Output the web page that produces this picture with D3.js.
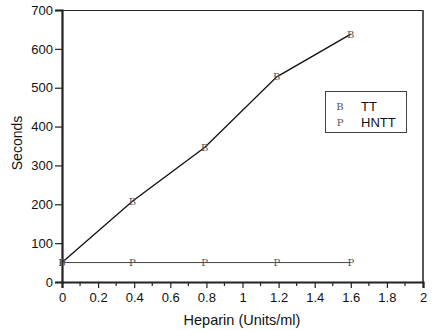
<!DOCTYPE html>
<html>
<head>
<meta charset="utf-8">
<script src="https://cdn.jsdelivr.net/npm/d3@7"></script>
<style>
  body { margin: 0; background: #fff; }
  svg { display: block; font-family: "Liberation Sans", Arial, sans-serif; }
</style>
</head>
<body>
<div id="chart"></div>
<script>
// data
const ttX = [0, 0.39, 0.79, 1.19, 1.6];
const ttY = [50, 208, 346, 528, 638];
const hnttX = [0, 0.39, 0.79, 1.19, 1.6];
const hnttY = [50, 50, 50, 50, 50];
const xTicks = [0, 0.2, 0.4, 0.6, 0.8, 1, 1.2, 1.4, 1.6, 1.8, 2];
const yTicks = [0, 100, 200, 300, 400, 500, 600, 700];
const legendLabels = ["TT", "HNTT"];
const legendMarks = ["B", "P"];

const W = 435, H = 331;
const margin = { top: 10, right: 12, bottom: 49, left: 62 };
const width = 423 - margin.left;
const height = 282 - margin.top;

const svg = d3.select("#chart").append("svg")
  .attr("width", W).attr("height", H);

const g = svg.append("g")
  .attr("transform", `translate(${margin.left},${margin.top})`);

const x = d3.scaleLinear().domain([0, 2]).range([0, width]);
const y = d3.scaleLinear().domain([0, 700]).range([height, 0]);

// top and right frame
g.append("line").attr("x1", 0).attr("x2", width).attr("y1", 0.5).attr("y2", 0.5)
  .attr("stroke", "#222").attr("stroke-width", 1.2);
g.append("line").attr("x1", width).attr("x2", width).attr("y1", 0).attr("y2", height)
  .attr("stroke", "#555").attr("stroke-width", 2);

// minor x ticks
const minor = d3.range(0.1, 2, 0.2);
g.selectAll(".minor").data(minor).join("line")
  .attr("x1", d => x(d)).attr("x2", d => x(d))
  .attr("y1", height).attr("y2", height + 4)
  .attr("stroke", "#222").attr("stroke-width", 1.2);

const xAxis = g.append("g")
  .attr("transform", `translate(0,${height})`)
  .call(d3.axisBottom(x).tickValues(xTicks).tickSize(6).tickPadding(5)
    .tickFormat(d => d3.format("")(d)));
xAxis.select(".domain").attr("stroke", "#222").attr("stroke-width", 2.2);
xAxis.selectAll(".tick line").attr("stroke", "#222").attr("stroke-width", 1.2);
xAxis.selectAll("text").attr("font-size", 13).attr("fill", "#111");

const yAxis = g.append("g")
  .call(d3.axisLeft(y).tickValues(yTicks).tickSize(7).tickPadding(2));
yAxis.select(".domain").attr("stroke", "#222").attr("stroke-width", 2.2);
yAxis.selectAll(".tick line").attr("stroke", "#222").attr("stroke-width", 1.2);
yAxis.selectAll("text").attr("font-size", 13).attr("fill", "#111");

// axis titles
svg.append("text")
  .attr("x", 242).attr("y", 325)
  .attr("text-anchor", "middle").attr("font-size", 14.5).attr("fill", "#111")
  .text("Heparin (Units/ml)");
svg.append("text")
  .attr("transform", `translate(22,143) rotate(-90)`)
  .attr("text-anchor", "middle").attr("font-size", 14).attr("fill", "#111")
  .text("Seconds");

const line = d3.line().x(d => x(d[0])).y(d => y(d[1]));
const tt = ttX.map((v, i) => [v, ttY[i]]);
const hn = hnttX.map((v, i) => [v, hnttY[i]]);

g.append("path").datum(hn).attr("d", line)
  .attr("fill", "none").attr("stroke", "#444").attr("stroke-width", 1);
g.append("path").datum(tt).attr("d", line)
  .attr("fill", "none").attr("stroke", "#111").attr("stroke-width", 1.3);

const markFont = '"DejaVu Serif", "Liberation Serif", serif';
function marks(data, ch) {
  g.append("g").selectAll("text").data(data).join("text")
    .attr("x", d => x(d[0])).attr("y", d => y(d[1]) + 3.5)
    .attr("text-anchor", "middle")
    .attr("font-family", markFont).attr("font-size", 10)
    .attr("fill", "#555")
    .text(ch);
}
marks(hn, "P");
marks(tt, "B");

// legend
const lg = svg.append("g");
lg.append("rect").attr("x", 325.5).attr("y", 91.5).attr("width", 81).attr("height", 41)
  .attr("fill", "#fff").attr("stroke", "#444").attr("stroke-width", 1);
legendLabels.forEach((lab, i) => {
  const yy = 106 + i * 16;
  lg.append("text").attr("x", 340).attr("y", yy + 3.5)
    .attr("text-anchor", "middle").attr("font-family", markFont)
    .attr("font-size", 10).attr("fill", "#555").text(legendMarks[i]);
  lg.append("text").attr("x", 361).attr("y", yy + 4.5)
    .attr("font-size", 13).attr("fill", "#111").text(lab);
});
</script>
</body>
</html>
